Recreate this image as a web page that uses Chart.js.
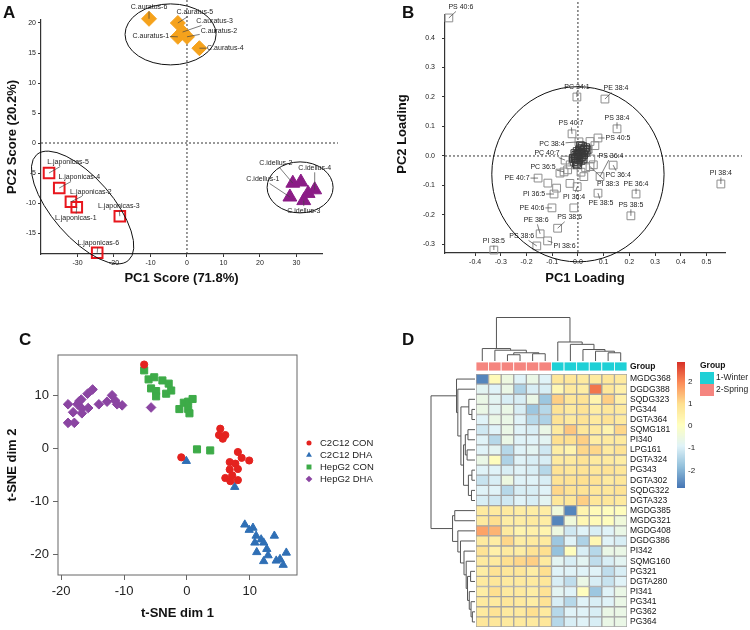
<!DOCTYPE html>
<html>
<head>
<meta charset="utf-8">
<script src="https://cdn.jsdelivr.net/npm/chart.js@4.4.1/dist/chart.umd.min.js"></script>
<style>
body{margin:0;background:#fff;width:750px;height:630px;position:relative;overflow:hidden;font-family:"Liberation Sans",Arial,sans-serif}
canvas{position:absolute}
.tag{position:absolute;font-weight:bold;font-size:17px;color:#111;line-height:17px}
</style>
</head>
<body>
<canvas id="chartA" width="375" height="300" style="left:0;top:0"></canvas>
<canvas id="chartB" width="375" height="300" style="left:375px;top:0"></canvas>
<canvas id="chartC" width="375" height="320" style="left:0;top:310px"></canvas>
<canvas id="chartD" width="375" height="320" style="left:375px;top:310px"></canvas>
<div class="tag" style="left:3px;top:4px">A</div>
<div class="tag" style="left:402px;top:4px">B</div>
<div class="tag" style="left:19px;top:331px">C</div>
<div class="tag" style="left:402px;top:331px">D</div>
<script>
// ---- A: PCA scores ----
const auratusNames = ['C.auratus-1', 'C.auratus-2', 'C.auratus-3', 'C.auratus-4', 'C.auratus-5', 'C.auratus-6'];
const auratusX = [-2.5, 0.0, -1.2, 3.4, -2.5, -10.4];
const auratusY = [17.7, 17.7, 18.5, 15.8, 20.0, 20.7];
const japonicasNames = ['L.japonicas-1', 'L.japonicas-2', 'L.japonicas-3', 'L.japonicas-4', 'L.japonicas-5', 'L.japonicas-6'];
const japonicasX = [-30.2, -31.8, -18.4, -35.0, -37.8, -24.6];
const japonicasY = [-10.7, -9.8, -12.2, -7.5, -5.0, -18.3];
const idellusNames = ['C.idellus-1', 'C.idellus-2', 'C.idellus-3', 'C.idellus-4', '', ''];
const idellusX = [28.2, 29.0, 32.0, 35.0, 31.2, 33.2];
const idellusY = [-9.0, -6.7, -9.6, -7.8, -6.5, -8.4];
const scoreTicksX = [-30, -20, -10, 0, 10, 20, 30];
const scoreTicksY = [-15, -10, -5, 0, 5, 10, 15, 20];

// ---- B: PCA loadings ----
const loadingNames = ['PS 40:6', 'PC 34:1', 'PE 38:4', 'PS 38:4', 'PS 40:7', 'PS 40:5', 'PC 38:4', 'PC 40:7', 'PS 36:4', 'PC 36:5', 'PC 36:4', 'PI 38:3', 'PE 40:7',
  'PE 36:4', 'PI 38:4', 'PI 36:5', 'PI 36:4', 'PE 38:5', 'PS 38:5', 'PE 40:6', 'PS 38:6', 'PE 38:6', 'PS 38:6', 'PI 38:6', 'PI 38:5'];
const loadingX = [-0.502, -0.004, 0.105, 0.152, -0.023, 0.078, 0.004, -0.050, 0.086, -0.054, 0.137, 0.047, -0.155,
  0.226, 0.556, -0.093, -0.003, 0.078, 0.206, -0.101, -0.079, -0.147, -0.160, -0.118, -0.327];
const loadingY = [0.468, 0.200, 0.193, 0.092, 0.075, 0.061, 0.048, -0.014, -0.070, -0.054, -0.031, -0.036, -0.075,
  -0.129, -0.095, -0.129, -0.104, -0.126, -0.203, -0.176, -0.245, -0.264, -0.305, -0.288, -0.319];
const otherLoadX = [0.047, 0.066, 0.040, -0.083, -0.031, 0.023, -0.016, -0.117, -0.040, -0.070, 0.030, 0.060, -0.030, 0.050, 0.012];
const otherLoadY = [0.049, 0.035, 0.023, -0.109, -0.093, -0.070, -0.176, -0.092, -0.047, -0.058, -0.040, -0.030, -0.030, -0.010, -0.055];
const clusterX = [0.000, 0.005, 0.010, 0.015, 0.020, 0.025, 0.030, 0.012, 0.018, -0.005, -0.010, -0.008, 0.003, 0.008, -0.015,
  -0.003, 0.022, 0.015, -0.012, 0.000, 0.028, 0.006, -0.006, 0.010, 0.035, -0.018, 0.002, 0.020, -0.002, 0.012];
const clusterY = [0.000, 0.005, 0.010, 0.012, 0.018, 0.022, 0.028, 0.025, 0.032, -0.005, -0.010, 0.002, -0.012, -0.006, -0.018,
  0.015, 0.005, -0.002, 0.008, -0.020, 0.012, 0.020, -0.025, 0.035, 0.020, -0.008, 0.008, -0.010, -0.030, -0.015];
const loadTicksX = [-0.4, -0.3, -0.2, -0.1, 0, 0.1, 0.2, 0.3, 0.4, 0.5];
const loadTicksY = [-0.3, -0.2, -0.1, 0, 0.1, 0.2, 0.3, 0.4];

// ---- C: t-SNE ----
const conC2X = [-6.8, -0.9, 5.3, 5.1, 6.1, 5.7, 8.1, 8.7, 9.9, 6.8, 7.7, 6.8, 8.1, 7.2, 6.1, 6.9, 8.1];
const conC2Y = [15.9, -1.6, 3.8, 2.6, 2.6, 1.9, -0.6, -1.7, -2.2, -2.5, -2.8, -3.9, -3.8, -5.0, -5.5, -6.1, -5.9];
const dhaC2X = [-0.1, 7.6, 9.2, 9.9, 10.5, 11.0, 10.8, 11.8, 12.2, 12.7, 11.1, 12.9, 12.2, 13.9, 14.2, 14.8, 15.3, 15.8];
const dhaC2Y = [-2.3, -7.2, -14.3, -15.3, -14.9, -16.4, -17.7, -17.1, -17.7, -18.9, -19.5, -20.1, -21.2, -16.4, -21.1, -20.8, -21.9, -19.6];
const conHepX = [-6.8, -6.1, -5.2, -5.7, -4.9, -4.9, -3.9, -2.9, -3.3, -2.5, -1.2, -0.5, 0.2, 0.9, 0.2, 0.4, 1.6, 3.7];
const conHepY = [14.8, 13.1, 13.5, 11.4, 10.9, 9.9, 12.9, 12.3, 10.4, 11.0, 7.5, 8.7, 8.9, 9.4, 7.5, 6.7, -0.1, -0.3];
const dhaHepX = [-18.9, -18.1, -18.9, -17.9, -17.4, -17.1, -16.8, -16.7, -16.7, -15.7, -15.8, -15.0, -14.0, -12.7, -11.9, -11.4, -11.1, -10.3, -5.7];
const dhaHepY = [8.4, 6.9, 4.9, 4.9, 8.4, 9.0, 9.3, 7.6, 6.7, 7.7, 10.4, 11.2, 8.4, 8.9, 10.1, 9.1, 8.4, 8.2, 7.8];
const tsneTicks = [-20, -10, 0, 10];

// ---- D: heatmap ----
const lipids = ['MGDG368', 'DGDG388', 'SQDG323', 'PG344', 'DGTA364', 'SQMG181', 'PI340', 'LPG161', 'DGTA324', 'PG343', 'DGTA302', 'SQDG322', 'DGTA323',
  'MGDG385', 'MGDG321', 'MGDG408', 'DGDG386', 'PI342', 'SQMG160', 'PG321', 'DGTA280', 'PI341', 'PG341', 'PG362', 'PG364'];
const sampleGroups = ['2-Spring', '2-Spring', '2-Spring', '2-Spring', '2-Spring', '2-Spring', '1-Winter', '1-Winter', '1-Winter', '1-Winter', '1-Winter', '1-Winter'];
const heatValues = [
  [-2.6, 0.2, -0.5, -0.9, -0.6, -0.9, 0.8, 0.8, 0.7, 0.7, 0.8, 0.7],
  [-0.8, -0.9, -0.6, -1.5, -1.0, -1.0, 0.3, 0.7, 0.6, 2.2, 0.8, 0.5],
  [-0.6, -0.8, -1.0, -1.0, -0.6, -1.7, 1.2, 0.8, 0.9, 0.4, 1.2, 0.5],
  [-0.6, -0.8, -0.6, -1.0, -1.7, -1.4, 0.9, 0.7, 0.9, 0.6, 0.8, 0.7],
  [-0.9, -0.6, -0.6, -0.9, -1.4, -1.5, 0.9, 0.7, 0.9, 0.7, 0.9, 0.7],
  [-1.1, -0.9, -0.6, -0.9, -1.0, -0.6, 0.7, 1.3, 0.8, 0.7, 0.4, 1.1],
  [-0.9, -1.4, -0.6, -0.9, -0.9, -0.8, 1.0, 1.0, 1.2, 0.6, 0.7, 0.7],
  [-0.9, -0.8, -1.4, -0.9, -0.8, -1.1, 0.6, 0.4, 1.1, 1.1, 0.7, 0.9],
  [-0.6, 0.1, -1.5, -0.9, -1.0, -1.0, 0.7, 0.7, 0.9, 0.7, 0.7, 0.6],
  [-0.9, -0.9, -1.0, -0.9, -1.0, -1.4, 0.9, 0.8, 0.9, 0.8, 0.9, 0.8],
  [-1.2, -1.0, -0.5, -0.9, -0.9, -1.0, 0.9, 0.9, 1.0, 0.9, 0.7, 0.8],
  [-0.9, -0.9, -1.4, -1.0, -1.0, -0.9, 1.1, 0.9, 0.9, 0.8, 0.8, 0.9],
  [-1.0, -1.1, -1.1, -0.9, -1.0, -0.8, 0.8, 0.8, 1.2, 0.8, 0.8, 0.7],
  [0.7, 0.7, 0.7, 0.6, 0.6, 0.6, -0.4, -2.6, 0.4, 0.2, 0.1, 0.1],
  [0.7, 1.0, 0.6, 0.6, 0.7, 0.6, -2.6, -0.4, 0.3, 0.2, 0.1, -0.4],
  [1.7, 1.5, 0.7, 0.4, 0.5, 0.4, -0.5, -1.1, -0.9, -1.0, -0.9, -0.6],
  [0.7, 0.6, 1.1, 0.6, 0.7, 0.7, -1.7, -0.9, -1.5, 0.3, -0.9, -1.0],
  [0.9, 0.5, 0.7, 0.6, 0.9, 1.0, -1.8, 0.1, -1.0, -1.4, -0.6, -0.6],
  [0.7, 0.7, 1.0, 1.1, 1.2, 0.7, -0.8, -1.0, -0.8, -1.3, -1.0, -0.8],
  [0.6, 0.9, 0.8, 0.8, 0.6, 1.0, -0.9, -0.9, -0.9, -0.9, -1.3, -1.0],
  [0.7, 0.8, 0.7, 0.7, 0.7, 0.8, -1.0, -1.3, -0.6, -1.0, -1.2, -0.9],
  [0.6, 1.0, 0.7, 0.7, 0.6, 0.9, -0.8, -0.9, 0.1, -1.7, -0.9, -0.6],
  [0.7, 0.7, 0.8, 0.7, 0.6, 0.9, -1.0, -1.4, -0.9, -1.0, -0.9, -0.6],
  [0.7, 0.9, 0.7, 0.7, 1.0, 0.7, -1.4, -0.9, -0.9, -1.0, -0.6, -0.6],
  [0.8, 0.8, 0.7, 0.7, 0.7, 0.8, -1.4, -1.0, -0.9, -1.0, -0.6, -0.6]
];
// hclust-style merges: negative = leaf (1-based), positive = earlier merge; [a, b, height]
const colMerges = [[-5, -6, 1.67], [-3, -4, 1.44], [2, 1, 1.89], [-2, 3, 2.48], [-1, 4, 2.86],
  [-11, -12, 1.89], [-10, 6, 2.25], [-9, 7, 2.64], [-8, 8, 3.83], [-7, 9, 4.37], [5, 10, 10]];
const rowMerges = [[-4, -5, 0.7], [-3, 1, 1.4], [-6, -7, 1.6], [-8, -9, 1.8], [3, 4, 2.2], [-10, -11, 0.7], [-12, -13, 0.8],
  [6, 7, 1.5], [5, 8, 2.6], [2, 9, 3.2], [-2, 10, 3.9], [-1, 11, 4.2], [-14, -15, 4.6], [-24, -25, 0.6], [-23, 14, 0.9],
  [-22, 15, 1.3], [-20, -21, 1.0], [17, 16, 1.7], [-19, 18, 2.0], [-18, 19, 2.5], [-17, 20, 3.3], [-16, 21, 3.9],
  [13, 22, 5.1], [12, 23, 10]];
const colorTicks = [2, 1, 0, -1, -2];

const FONT = '"Liberation Sans", Arial, sans-serif';
Chart.defaults.font.family = FONT;
Chart.defaults.color = '#222';
Chart.defaults.animation = false;

const xy = (xs, ys) => xs.map((x, i) => ({x: x, y: ys[i]}));

function axis(o) {
  return {
    type: 'linear', min: o.min, max: o.max, position: o.position,
    afterBuildTicks: s => { s.ticks = o.ticks.map(v => ({value: v})); },
    afterFit: s => {
      if (o.width) s.width = o.width;
      if (o.height) s.height = o.height;
    },
    grid: {drawOnChartArea: false, drawTicks: true, tickLength: o.tickLen, color: o.color, lineWidth: 1},
    border: {display: o.border !== false, color: o.color, width: 1.2},
    ticks: {font: {size: o.tickSize}, color: '#222', padding: o.pad, callback: o.fmt || (v => v)},
    title: {display: true, text: o.title, color: '#111', font: {size: 13, weight: 'bold'}, padding: o.titlePad}
  };
}

const zeroLines = (right, top) => ({
  id: 'zeroLines',
  beforeDatasetsDraw(chart) {
    const {ctx, chartArea: a, scales: {x, y}} = chart;
    const px = x.getPixelForValue(0), py = y.getPixelForValue(0);
    ctx.save();
    ctx.setLineDash([2, 2]);
    ctx.strokeStyle = '#333';
    ctx.lineWidth = 1;
    ctx.beginPath();
    ctx.moveTo(a.left, py); ctx.lineTo(a.right + right, py);
    ctx.moveTo(px, a.top - top); ctx.lineTo(px, a.bottom);
    ctx.stroke();
    ctx.restore();
  }
});

// ellipse centres in data units; radii in data units when data:true, else px
const ellipses = list => ({
  id: 'ellipses',
  afterDatasetsDraw(chart) {
    const {ctx, scales: {x, y}} = chart;
    ctx.save();
    ctx.strokeStyle = '#111';
    ctx.lineWidth = 1;
    list.forEach(e => {
      const cx = x.getPixelForValue(e.cx), cy = y.getPixelForValue(e.cy);
      let rx = e.rx, ry = e.ry;
      if (e.data) {
        rx = Math.abs(x.getPixelForValue(e.cx + e.rx) - cx);
        ry = Math.abs(y.getPixelForValue(e.cy + e.ry) - cy);
      }
      ctx.beginPath();
      ctx.ellipse(cx, cy, rx, ry, (e.rot || 0) * Math.PI / 180, 0, 2 * Math.PI);
      ctx.stroke();
    });
    ctx.restore();
  }
});

const pointLabels = {
  id: 'pointLabels',
  afterDatasetsDraw(chart) {
    const ctx = chart.ctx;
    ctx.save();
    ctx.font = '7px ' + FONT;
    ctx.textAlign = 'center';
    ctx.textBaseline = 'middle';
    chart.data.datasets.forEach((ds, i) => {
      if (!ds.names) return;
      chart.getDatasetMeta(i).data.forEach((pt, j) => {
        const name = ds.names[j], off = ds.namePos[j];
        if (!name || !off) return;
        const tx = pt.x + off[0], ty = pt.y + off[1];
        const hw = ctx.measureText(name).width / 2 + 1, hh = 4.5;
        const dx = tx - pt.x, dy = ty - pt.y;
        const s = Math.min(dx ? hw / Math.abs(dx) : Infinity, dy ? hh / Math.abs(dy) : Infinity);
        if (s < 1) {
          ctx.strokeStyle = '#444';
          ctx.lineWidth = 0.7;
          ctx.beginPath();
          ctx.moveTo(pt.x, pt.y);
          ctx.lineTo(tx - dx * s, ty - dy * s);
          ctx.stroke();
        }
        ctx.fillStyle = '#222';
        ctx.fillText(name, tx, ty);
      });
    });
    ctx.restore();
  }
};

const noTips = {legend: {display: false}, tooltip: {enabled: false}};

// ---------- A ----------
new Chart(document.getElementById('chartA'), {
  type: 'scatter',
  data: {datasets: [
    {label: 'C.auratus', data: xy(auratusX, auratusY), pointStyle: 'rectRot', pointRadius: 7.5,
      backgroundColor: '#f5a21c', borderColor: '#f5a21c', clip: false,
      names: auratusNames, namePos: [[-27, -1], [32, -6], [32, -11], [26, 0], [17, -11], [0, -12]]},
    {label: 'L.japonicas', data: xy(japonicasX, japonicasY), pointStyle: 'rect', pointRadius: 7.5,
      backgroundColor: 'rgba(255,255,255,0)', borderColor: '#e8161d', borderWidth: 2, clip: false,
      names: japonicasNames, namePos: [[-1, 11], [20, -10], [-1, -10], [20, -11], [19, -11], [1, -10]]},
    {label: 'C.idellus', data: xy(idellusX, idellusY), pointStyle: 'triangle', pointRadius: 8,
      backgroundColor: '#8b1c86', borderColor: '#8b1c86', clip: false,
      names: idellusNames, namePos: [[-27, -18], [-17, -20], [0, 10], [0, -22], null, null]}
  ]},
  options: {
    responsive: false,
    layout: {padding: {top: 20, right: 53, left: 0, bottom: 0}},
    plugins: noTips,
    scales: {
      x: axis({min: -40, max: 37, ticks: scoreTicksX, height: 46, tickLen: 3, pad: 2, tickSize: 7, color: '#333',
        title: 'PC1 Score (71.8%)', titlePad: {top: 2, bottom: 14}}),
      y: axis({min: -18.5, max: 20.5, ticks: scoreTicksY, width: 41, tickLen: 3, pad: 2, tickSize: 7, color: '#333',
        title: 'PC2 Score (20.2%)', titlePad: {top: 5, bottom: 2}})
    }
  },
  plugins: [zeroLines(16, 20), ellipses([
    {cx: -4.5, cy: 18.1, rx: 45.5, ry: 30.5},
    {cx: 31, cy: -7.4, rx: 33, ry: 25.5},
    {cx: -28.6, cy: -10.75, rx: 70, ry: 30, rot: 49}
  ]), pointLabels]
});

// ---------- B ----------
const loadStyle = {pointStyle: 'rect', pointRadius: 5.5, backgroundColor: 'rgba(255,255,255,0)', borderWidth: 1, clip: false};
new Chart(document.getElementById('chartB'), {
  type: 'scatter',
  data: {datasets: [
    Object.assign({label: 'cluster', data: xy(clusterX, clusterY), borderColor: '#3a3a3a'}, loadStyle),
    Object.assign({label: 'other', data: xy(otherLoadX, otherLoadY), borderColor: '#8e8e8e'}, loadStyle),
    Object.assign({label: 'labelled', data: xy(loadingX, loadingY), borderColor: '#8e8e8e', names: loadingNames,
      namePos: [[12, -11], [0, -10], [11, -11], [0, -11], [-1, -11], [20, 0], [-27, 2], [-18, -7], [11, -21], [-21, -5],
        [5, 10], [18, 17], [-21, 0], [0, -10], [0, -11], [-20, 0], [-3, 10], [3, 10], [0, -11], [-20, 0], [12, -11],
        [-4, -14], [-15, -10], [17, 5], [0, -9]]}, loadStyle)
  ]},
  options: {
    responsive: false,
    layout: {padding: {top: 15, right: 25, left: 0, bottom: 0}},
    plugins: noTips,
    scales: {
      x: axis({min: -0.517, max: 0.572, ticks: loadTicksX, height: 47, tickLen: 3, pad: 2, tickSize: 7, color: '#333',
        fmt: v => v.toFixed(1), title: 'PC1 Loading', titlePad: {top: 2, bottom: 14}}),
      y: axis({min: -0.329, max: 0.478, ticks: loadTicksY, width: 70, tickLen: 3, pad: 7, tickSize: 7, color: '#333',
        fmt: v => v.toFixed(1), title: 'PC2 Loading', titlePad: {top: 20, bottom: 2}})
    }
  },
  plugins: [zeroLines(17, 13), ellipses([{cx: 0, cy: -0.062, rx: 0.335, ry: 0.297, data: true}]), pointLabels]
});

// ---------- C ----------
const frameAndLegend = {
  id: 'frameAndLegend',
  afterDraw(chart) {
    const {ctx, chartArea: a} = chart;
    ctx.save();
    ctx.strokeStyle = '#666';
    ctx.lineWidth = 1;
    ctx.strokeRect(a.left, a.top, a.right - a.left, a.bottom - a.top);
    ctx.font = '9.5px ' + FONT;
    ctx.textBaseline = 'middle';
    chart.data.datasets.forEach((ds, i) => {
      const y = 133 + i * 12;
      ctx.fillStyle = ds.backgroundColor;
      ctx.strokeStyle = ds.borderColor;
      Chart.helpers.drawPoint(ctx, {pointStyle: ds.pointStyle, radius: ds.pointRadius * 0.7, borderWidth: 0}, 309, y);
      ctx.fillStyle = '#222';
      ctx.fillText(ds.label, 320, y);
    });
    ctx.restore();
  }
};
const tsneAxis = (title, extra) => Object.assign(axis({min: 0, max: 0, ticks: tsneTicks, tickLen: 5, pad: 4, tickSize: 13,
  color: '#666', border: false, title: title}), extra);
new Chart(document.getElementById('chartC'), {
  type: 'scatter',
  data: {datasets: [
    {label: 'C2C12 CON', data: xy(conC2X, conC2Y), pointStyle: 'circle', pointRadius: 3.6, backgroundColor: '#e4221f', borderColor: '#e4221f'},
    {label: 'C2C12 DHA', data: xy(dhaC2X, dhaC2Y), pointStyle: 'triangle', pointRadius: 4.8, backgroundColor: '#2f6fb5', borderColor: '#2f6fb5'},
    {label: 'HepG2 CON', data: xy(conHepX, conHepY), pointStyle: 'rect', pointRadius: 5, backgroundColor: '#3dab48', borderColor: '#3dab48'},
    {label: 'HepG2 DHA', data: xy(dhaHepX, dhaHepY), pointStyle: 'rectRot', pointRadius: 4.8, backgroundColor: '#8b45a2', borderColor: '#8b45a2'}
  ]},
  options: {
    responsive: false,
    layout: {padding: {top: 45, right: 78, left: 0, bottom: 0}},
    plugins: noTips,
    scales: {
      x: tsneAxis('t-SNE dim 1', {min: -20.5, max: 17.5,
        afterFit: s => { s.height = 55; }, title: {display: true, text: 't-SNE dim 1', color: '#111', font: {size: 13, weight: 'bold'}, padding: {top: 2, bottom: 9}}}),
      y: tsneAxis('t-SNE dim 2', {min: -23.8, max: 17.7,
        afterFit: s => { s.width = 58; }, title: {display: true, text: 't-SNE dim 2', color: '#111', font: {size: 13, weight: 'bold'}, padding: {top: 5, bottom: 2}}})
    }
  },
  plugins: [frameAndLegend]
});

// ---------- D ----------
const heatPalette = ['#4575b4', '#91bfdb', '#e0f3f8', '#ffffbf', '#fee090', '#fc8d59', '#d73027'];
const heatMin = -2.8, heatMax = 2.9;
const groupColors = {'1-Winter': '#1fd0d6', '2-Spring': '#f5857f'};
const hexRgb = h => [1, 3, 5].map(k => parseInt(h.substr(k, 2), 16));
function heatColor(v) {
  const n = heatPalette.length - 1;
  const t = Math.max(0, Math.min(n - 1e-9, (v - heatMin) / (heatMax - heatMin) * n));
  const i = Math.floor(t), f = t - i;
  const a = hexRgb(heatPalette[i]), b = hexRgb(heatPalette[i + 1]);
  return 'rgb(' + a.map((c, k) => Math.round(c + (b[k] - c) * f)).join(',') + ')';
}

function drawDendro(ctx, merges, leafPos, hPix, vertical) {
  const pos = [], hgt = [];
  const P = id => id < 0 ? leafPos(-id - 1) : pos[id - 1];
  const H = id => id < 0 ? 0 : hgt[id - 1];
  ctx.beginPath();
  merges.forEach(([a, b, h], k) => {
    const pts = [[P(a), H(a)], [P(a), h], [P(b), h], [P(b), H(b)]];
    pts.forEach(([p, hh], m) => {
      const X = vertical ? p : hPix(hh), Y = vertical ? hPix(hh) : p;
      if (m === 0) ctx.moveTo(X, Y); else ctx.lineTo(X, Y);
    });
    pos[k] = (P(a) + P(b)) / 2;
    hgt[k] = h;
  });
  ctx.stroke();
}

const heatDecor = {
  id: 'heatDecor',
  afterDraw(chart) {
    const {ctx, scales: {x, y}} = chart;
    ctx.save();
    // group bar
    sampleGroups.forEach((g, j) => {
      const l = x.getPixelForValue(j), r = x.getPixelForValue(j + 1);
      ctx.fillStyle = groupColors[g];
      ctx.fillRect(l, 52, r - l, 9);
      ctx.strokeStyle = '#ffffff';
      ctx.lineWidth = 0.8;
      ctx.strokeRect(l, 52, r - l, 9);
    });
    ctx.fillStyle = '#111';
    ctx.font = 'bold 8.5px ' + FONT;
    ctx.textBaseline = 'middle';
    ctx.fillText('Group', 255, 57);
    // dendrograms
    ctx.strokeStyle = '#555';
    ctx.lineWidth = 1;
    drawDendro(ctx, colMerges, j => x.getPixelForValue(j + 0.5), h => 51 - h * 4.35, true);
    drawDendro(ctx, rowMerges, i => y.getPixelForValue(i), h => 100 - h * 4.4, false);
    // colour bar
    const top = 52, bot = 178;
    for (let yy = top; yy < bot; yy++) {
      ctx.fillStyle = heatColor(heatMax - (yy - top + 0.5) / (bot - top) * (heatMax - heatMin));
      ctx.fillRect(302, yy, 8, 1);
    }
    ctx.font = '8px ' + FONT;
    ctx.fillStyle = '#222';
    colorTicks.forEach(v => {
      ctx.fillText(String(v), 313, top + (heatMax - v) / (heatMax - heatMin) * (bot - top));
    });
    // group legend
    ctx.font = 'bold 8.5px ' + FONT;
    ctx.fillStyle = '#111';
    ctx.fillText('Group', 325, 56);
    ctx.font = '8.5px ' + FONT;
    Object.keys(groupColors).forEach((g, k) => {
      ctx.fillStyle = groupColors[g];
      ctx.fillRect(325, 62 + k * 12, 14, 12);
      ctx.fillStyle = '#222';
      ctx.fillText(g, 341, 68 + k * 12);
    });
    ctx.restore();
  }
};

new Chart(document.getElementById('chartD'), {
  type: 'bar',
  data: {
    labels: lipids,
    datasets: sampleGroups.map((g, j) => ({
      label: 'S' + (j + 1),
      data: lipids.map(() => [j, j + 1]),
      backgroundColor: heatValues.map(r => heatColor(r[j])),
      borderColor: '#a4a4a4',
      borderWidth: 1,
      borderSkipped: false,
      grouped: false,
      barPercentage: 1,
      categoryPercentage: 1
    }))
  },
  options: {
    responsive: false,
    indexAxis: 'y',
    layout: {padding: {top: 64, right: 0, left: 101, bottom: 3}},
    plugins: noTips,
    scales: {
      x: {type: 'linear', min: 0, max: 12, display: false},
      y: {
        type: 'category', position: 'right', offset: true,
        afterFit: s => { s.width = 123; s.paddingTop = 0; s.paddingBottom = 0; },
        grid: {display: false, drawTicks: false}, border: {display: false},
        ticks: {autoSkip: false, padding: 3, color: '#111', font: {size: 8.5}}
      }
    }
  },
  plugins: [heatDecor]
});
</script>
</body>
</html>
